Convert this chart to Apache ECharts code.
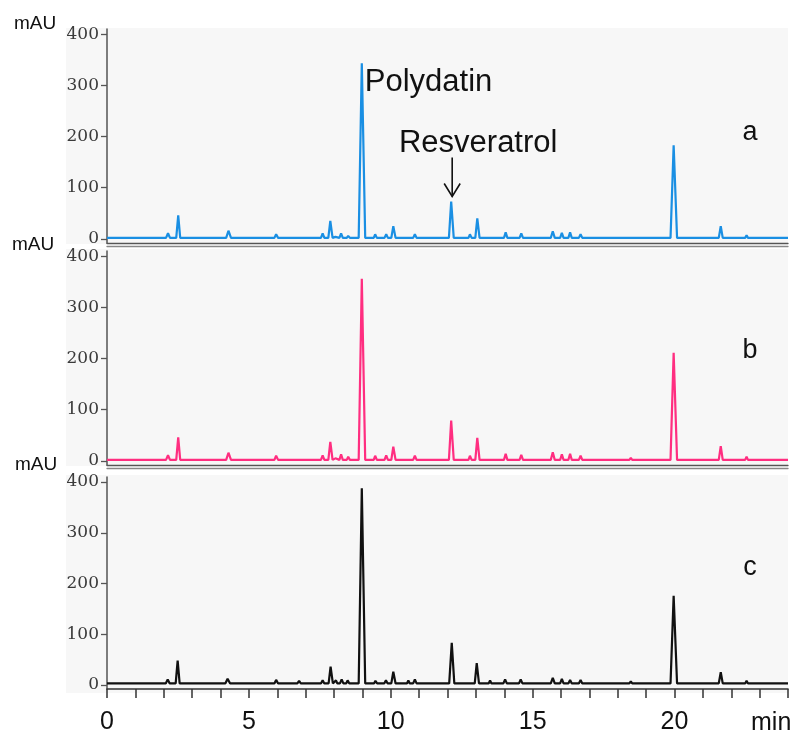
<!DOCTYPE html>
<html>
<head>
<meta charset="utf-8">
<script src="https://cdn.jsdelivr.net/npm/echarts@6/dist/echarts.min.js"></script>
<style>html,body{margin:0;padding:0;background:#fff}#c{width:797px;height:735px}</style>
</head>
<body>
<div id="c"></div>
<script>
// ---- data: [time (min), absorbance (mAU)] ----
const xLabels = [0, 5, 10, 15, 20];
const yTicks = [0, 100, 200, 300, 400];
const panelNames = ['a', 'b', 'c'];

const traceA = [[0,2],[2.08,2],[2.15,11],[2.22,2],[2.44,2],[2.51,46],[2.58,2],[4.2,2],[4.28,16],[4.37,2],[5.9,2],[5.96,9],[6.03,2],[6.72,2],[6.77,4],[6.83,2],[7.54,2],[7.6,11],[7.66,2],[7.8,2],[7.87,35],[7.95,2],[8.0,2],[8.05,4],[8.1,2],[8.19,2],[8.25,11],[8.31,2],[8.45,2],[8.5,6],[8.56,2],[8.87,2],[8.98,343],[9.1,2],[9.4,2],[9.45,9],[9.51,2],[9.78,2],[9.84,9],[9.9,2],[10.02,2],[10.09,25],[10.17,2],[10.57,2],[10.62,5],[10.67,2],[10.79,2],[10.85,9],[10.91,2],[12.05,2],[12.13,73],[12.22,2],[12.74,2],[12.79,9],[12.85,2],[12.98,2],[13.05,40],[13.13,2],[13.45,2],[13.5,4],[13.55,2],[13.99,2],[14.05,13],[14.11,2],[14.54,2],[14.6,11],[14.66,2],[15.64,2],[15.71,15],[15.78,2],[15.97,2],[16.03,12],[16.09,2],[16.26,2],[16.32,13],[16.38,2],[16.63,2],[16.69,9],[16.75,2],[18.41,2],[18.46,5],[18.51,2],[19.86,2],[19.97,183],[20.09,2],[21.56,2],[21.63,25],[21.7,2],[22.49,2],[22.54,7],[22.59,2],[24,2]];

const traceB = [[0,2],[2.08,2],[2.15,11],[2.22,2],[2.44,2],[2.51,46],[2.58,2],[4.2,2],[4.28,16],[4.37,2],[5.9,2],[5.96,10],[6.03,2],[6.72,2],[6.77,5],[6.83,2],[7.54,2],[7.6,11],[7.66,2],[7.8,2],[7.87,37],[7.95,2],[8.0,2],[8.05,5],[8.1,2],[8.19,2],[8.25,13],[8.31,2],[8.45,2],[8.5,8],[8.56,2],[8.87,2],[8.98,356],[9.1,2],[9.4,2],[9.45,10],[9.51,2],[9.78,2],[9.84,11],[9.9,2],[10.02,2],[10.09,28],[10.17,2],[10.57,2],[10.62,5],[10.67,2],[10.79,2],[10.85,10],[10.91,2],[12.05,2],[12.13,79],[12.22,2],[12.74,2],[12.79,10],[12.85,2],[12.98,2],[13.05,45],[13.13,2],[13.45,2],[13.5,4],[13.55,2],[13.99,2],[14.05,14],[14.11,2],[14.54,2],[14.6,12],[14.66,2],[15.64,2],[15.71,17],[15.78,2],[15.97,2],[16.03,13],[16.09,2],[16.26,2],[16.32,14],[16.38,2],[16.63,2],[16.69,10],[16.75,2],[18.41,2],[18.46,6],[18.51,2],[19.86,2],[19.97,211],[20.09,2],[21.56,2],[21.63,29],[21.7,2],[22.49,2],[22.54,8],[22.59,2],[24,2]];

const traceC = [[0,3],[2.07,3],[2.14,11],[2.21,3],[2.42,3],[2.49,48],[2.56,3],[4.17,3],[4.25,12],[4.34,3],[5.9,3],[5.96,10],[6.03,3],[6.71,3],[6.77,8],[6.83,3],[7.54,3],[7.6,9],[7.66,3],[7.81,3],[7.88,36],[7.96,3],[8.02,3],[8.07,9],[8.12,3],[8.21,3],[8.27,11],[8.33,3],[8.43,3],[8.48,9],[8.54,3],[8.87,3],[8.98,388],[9.1,3],[9.41,3],[9.46,8],[9.52,3],[9.77,3],[9.83,9],[9.89,3],[10.02,3],[10.09,26],[10.17,3],[10.57,3],[10.62,9],[10.67,3],[10.79,3],[10.85,11],[10.91,3],[12.06,3],[12.15,83],[12.24,3],[12.74,3],[12.79,6],[12.85,3],[12.96,3],[13.03,43],[13.11,3],[13.45,3],[13.5,9],[13.55,3],[13.97,3],[14.03,11],[14.09,3],[14.52,3],[14.58,11],[14.64,3],[15.64,3],[15.71,14],[15.78,3],[15.97,3],[16.03,12],[16.09,3],[16.26,3],[16.32,10],[16.38,3],[16.63,3],[16.69,10],[16.75,3],[18.41,3],[18.46,7],[18.51,3],[19.86,3],[19.97,176],[20.09,3],[21.56,3],[21.63,25],[21.7,3],[22.49,3],[22.54,8],[22.59,3],[24,3]];

const traces = [traceA, traceB, traceC];
const colors = ['#1a8fe3', '#ff2e80', '#111111'];
const annot = { polydatin: [8.98, 343], resveratrol: [12.13, 73] };

// ---- layout ----
const grids = [
  { left: 107, right: 9, top: 29, bottom: 492 },
  { left: 107, right: 9, top: 251, bottom: 270 },
  { left: 107, right: 9, top: 477, bottom: 44 }
];

const chart = echarts.init(document.getElementById('c'), null, { renderer: 'canvas' });

const xAxes = [];
const yAxes = [];
grids.forEach((g, i) => {
  const last = i === 2;
  xAxes.push({
    type: 'value', gridIndex: i, position: 'bottom', min: 0, max: 24, interval: 1,
    axisLine: { show: true, onZero: false, lineStyle: { color: last ? '#333' : '#555', width: last ? 1.6 : 1.3 } },
    axisTick: { show: last, length: 9, lineStyle: { color: '#333', width: 1.5 } },
    axisLabel: last ? { show: true, customValues: xLabels, margin: 21, color: '#111', fontSize: 25, fontFamily: 'Liberation Sans, Arial, sans-serif' } : { show: false },
    splitLine: { show: false }
  });
  if (!last) {
    xAxes.push({
      type: 'value', gridIndex: i, position: 'bottom', min: 0, max: 24, offset: 3,
      axisLine: { show: true, onZero: false, lineStyle: { color: '#888', width: 1.3 } },
      axisTick: { show: false }, axisLabel: { show: false }, splitLine: { show: false }
    });
  }
  yAxes.push({
    type: 'value', gridIndex: i, position: 'left', min: -8, max: 410,
    axisLine: { show: true, onZero: false, lineStyle: { color: '#555', width: 1.5 } },
    axisTick: { show: true, customValues: yTicks, length: 6, lineStyle: { color: '#555', width: 1.3 } },
    axisLabel: { show: true, customValues: yTicks, margin: 8, color: '#3a3a3a', fontSize: 17, fontFamily: 'DejaVu Serif, serif' },
    splitLine: { show: false }
  });
});
const xIndexForGrid = [0, 2, 4];

chart.setOption({
  animation: false,
  backgroundColor: '#ffffff',
  grid: grids,
  xAxis: xAxes,
  yAxis: yAxes,
  series: traces.map((t, i) => ({
    name: panelNames[i], type: 'line', xAxisIndex: xIndexForGrid[i], yAxisIndex: i,
    data: t, showSymbol: false, symbol: 'none', smooth: false,
    lineStyle: { color: colors[i], width: 2.2 }, z: 3
  }))
});

// ---- annotations positioned from data coordinates ----
const pPoly = chart.convertToPixel({ gridIndex: 0 }, annot.polydatin);
const pRes = chart.convertToPixel({ gridIndex: 0 }, annot.resveratrol);
const font = 'Liberation Sans, Arial, sans-serif';
const bgRects = [[66, 28, 722, 216], [66, 249, 722, 217], [66, 475, 722, 218]];
const mauPos = [[14, 24], [12, 245], [15, 465]];
const letterY = [133, 351, 568];

const graphics = [];
bgRects.forEach(r => graphics.push({ type: 'rect', z: -10, silent: true, shape: { x: r[0], y: r[1], width: r[2], height: r[3] }, style: { fill: '#f7f7f7' } }));
mauPos.forEach(p => graphics.push({ type: 'text', z: 10, x: p[0], y: p[1], style: { text: 'mAU', fontSize: 19, fontFamily: font, fill: '#111', verticalAlign: 'middle' } }));
panelNames.forEach((n, i) => graphics.push({ type: 'text', z: 10, x: 750, y: letterY[i], style: { text: n, fontSize: 27, fontFamily: font, fill: '#111', align: 'center', verticalAlign: 'middle' } }));
graphics.push({ type: 'text', z: 10, x: 751, y: 723, style: { text: 'min', fontSize: 25, fontFamily: font, fill: '#111', verticalAlign: 'middle' } });
graphics.push({ type: 'text', z: 10, x: pPoly[0] + 3, y: pPoly[1] + 19, style: { text: 'Polydatin', fontSize: 31, fontFamily: font, fill: '#111', verticalAlign: 'middle' } });
graphics.push({ type: 'text', z: 10, x: pRes[0] + 27, y: pRes[1] - 58, style: { text: 'Resveratrol', fontSize: 31, fontFamily: font, fill: '#111', align: 'center', verticalAlign: 'middle' } });
const ax = pRes[0] + 1, tipY = pRes[1] - 5;
graphics.push({ type: 'line', z: 10, shape: { x1: ax, y1: tipY - 39, x2: ax, y2: tipY }, style: { stroke: '#111', lineWidth: 1.6 } });
graphics.push({ type: 'polyline', z: 10, shape: { points: [[ax - 8, tipY - 13], [ax, tipY], [ax + 8, tipY - 13]] }, style: { stroke: '#111', lineWidth: 1.6, fill: null } });

chart.setOption({ graphic: graphics });
</script>
</body>
</html>
